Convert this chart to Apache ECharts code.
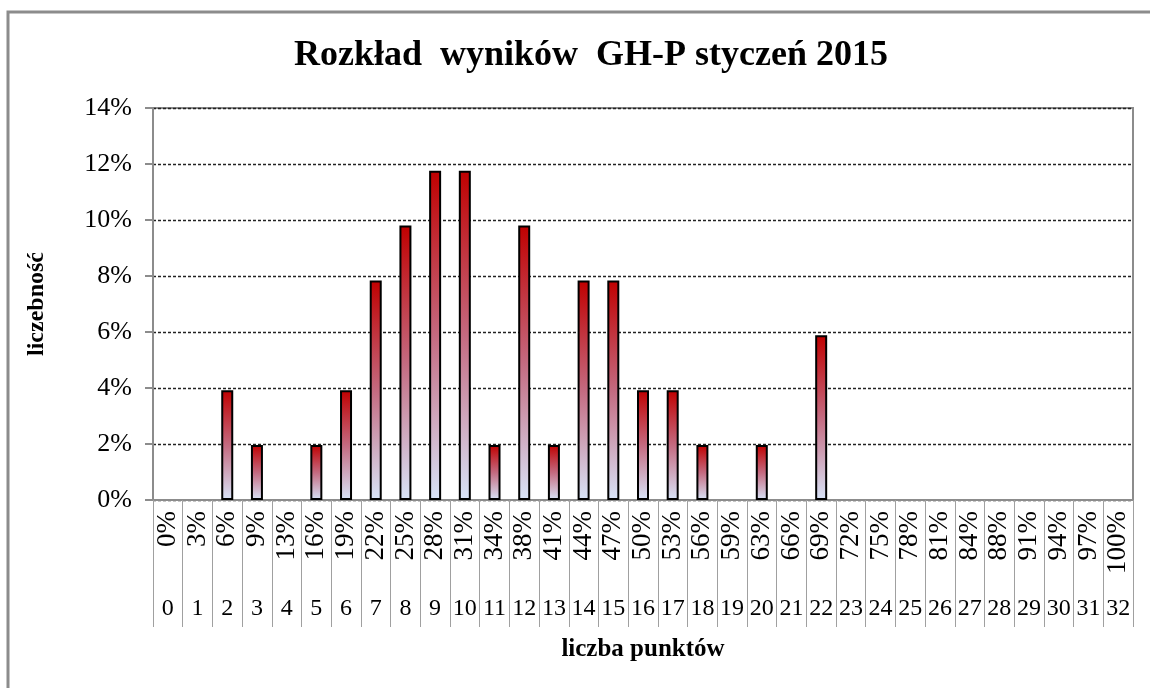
<!DOCTYPE html>
<html>
<head>
<meta charset="utf-8">
<script src="https://cdn.jsdelivr.net/npm/echarts@6/dist/echarts.min.js"></script>
<style>
  html, body { margin: 0; padding: 0; background: #fff; }
  #wykres { width: 1150px; height: 688px; }
</style>
</head>
<body>
<div id="wykres"></div>
<script>
// liczba punktow (kategorie)
var punkty = ['0','1','2','3','4','5','6','7','8','9','10','11','12','13','14','15','16',
  '17','18','19','20','21','22','23','24','25','26','27','28','29','30','31','32'];
// procent punktow - etykiety
var procentPkt = ['0%','3%','6%','9%','13%','16%','19%','22%','25%','28%','31%','34%','38%',
  '41%','44%','47%','50%','53%','56%','59%','63%','66%','69%','72%','75%','78%','81%',
  '84%','88%','91%','94%','97%','100%'];
// liczebnosc w %
var liczebnosc = [0, 0, 3.92, 1.96, 0, 1.96, 3.92, 7.84, 9.80, 11.76, 11.76, 1.96, 9.80,
  1.96, 7.84, 7.84, 3.92, 3.92, 1.96, 0, 1.96, 0, 5.88, 0, 0, 0, 0, 0, 0, 0, 0, 0, 0];

var czcionka = '"Liberation Serif", "Times New Roman", serif';

gerarWykres();
function gerarWykres(){
  var dom = document.getElementById('wykres');
  var myChart = echarts.init(dom, null, { renderer: 'canvas' });

  // zera bez slupka (bez obramowania)
  var dane = liczebnosc.map(function (v) { return v === 0 ? '-' : v; });

  var option = {
    animation: false,
    textStyle: { fontFamily: czcionka, color: '#000' },
    title: {
      text: 'Rozkład  wyników  GH-P styczeń 2015',
      left: 586,
      textAlign: 'center',
      top: 33,
      textStyle: { fontFamily: czcionka, fontSize: 36, fontWeight: 'bold', color: '#000' }
    },
    graphic: [{
      type: 'rect',
      shape: { x: 8, y: 12, width: 1160, height: 700 },
      style: { fill: 'none', stroke: '#8c8c8c', lineWidth: 3 },
      silent: true
    }],
    grid: {
      left: 153,
      right: 17,
      top: 108,
      bottom: 188,
      show: true,
      borderColor: '#8c8c8c',
      borderWidth: 2
    },
    xAxis: [
      {
        type: 'category',
        data: procentPkt,
        position: 'bottom',
        axisLine: { lineStyle: { color: '#8c8c8c', width: 2 } },
        axisTick: { show: true, interval: 0, length: 127, lineStyle: { color: '#a0a0a0', width: 1 } },
        axisLabel: {
          interval: 0, rotate: 90, margin: 11, fontSize: 27,
          fontFamily: czcionka, color: '#000'
        }
      },
      {
        type: 'category',
        data: punkty,
        position: 'bottom',
        axisLine: { show: false },
        axisTick: { show: false },
        axisLabel: { interval: 0, margin: 97, fontSize: 24, fontFamily: czcionka, color: '#000' },
        name: 'liczba punktów',
        nameLocation: 'middle',
        nameGap: 137,
        nameTextStyle: { fontFamily: czcionka, fontSize: 25, fontWeight: 'bold', color: '#000' }
      }
    ],
    yAxis: {
      type: 'value',
      min: 0,
      max: 14,
      interval: 2,
      name: 'liczebność',
      nameLocation: 'middle',
      nameGap: 104,
      nameTextStyle: { fontFamily: czcionka, fontSize: 24, fontWeight: 'bold', color: '#000' },
      axisLine: { show: true, lineStyle: { color: '#8c8c8c', width: 2 } },
      axisTick: { show: true, length: 8, lineStyle: { color: '#8c8c8c', width: 2 } },
      axisLabel: { formatter: '{value}%', fontSize: 26, margin: 21, fontFamily: czcionka, color: '#000' },
      splitLine: { lineStyle: { color: '#222', type: [3, 2], width: 1.3 } }
    },
    series: [{
      name: 'liczebność',
      type: 'bar',
      data: dane,
      barWidth: 12,
      itemStyle: {
        borderColor: '#000',
        borderWidth: 2,
        color: new echarts.graphic.LinearGradient(0, 0, 0, 1, [
          { offset: 0, color: '#c00000' },
          { offset: 0.5, color: '#c46a80' },
          { offset: 1, color: '#d8e4f8' }
        ])
      }
    }]
  };

  myChart.setOption(option);
  window.addEventListener('resize', myChart.resize);
}
</script>
</body>
</html>
